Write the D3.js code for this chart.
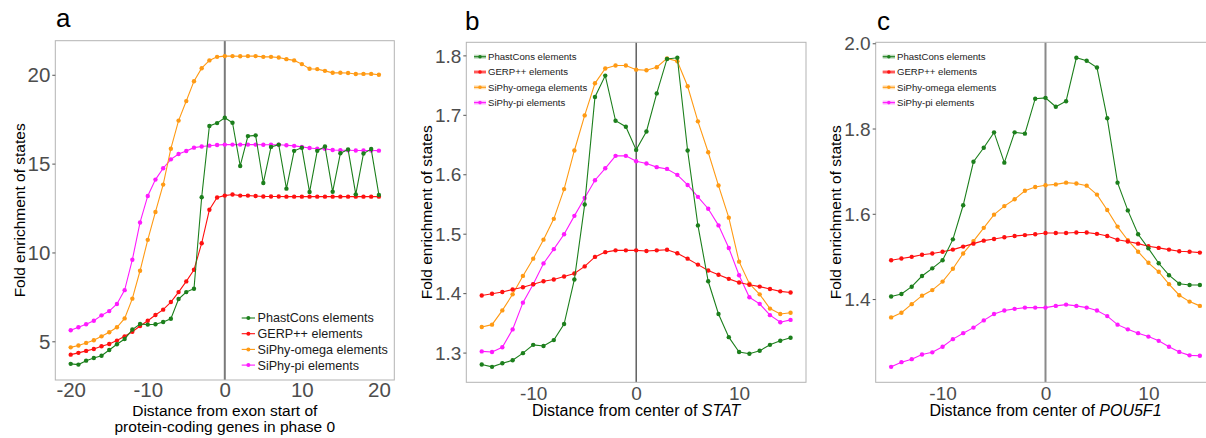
<!DOCTYPE html>
<html>
<head>
<meta charset="utf-8">
<script src="https://cdn.jsdelivr.net/npm/d3@7"></script>
<style>
  html, body { margin: 0; padding: 0; background: #fff; }
  svg { display: block; font-family: "Liberation Sans", Arial, sans-serif; }
</style>
</head>
<body>
<svg id="chart" width="1206" height="438"></svg>
<script>
// ---------- DATA ----------
const seriesNames = ["PhastCons elements", "GERP++ elements", "SiPhy-omega elements", "SiPhy-pi elements"];
const seriesColors = ["#1c7f1c", "#ff1010", "#ff9a14", "#ff1aff"];

// Panel a: distance from exon start (-20..20)
const xA = d3.range(-20, 21);
const phastA = [3.73,3.69,3.91,4.06,4.19,4.51,4.83,5.13,5.66,5.97,5.94,5.96,6.09,6.27,7.38,7.77,7.96,13.11,17.12,17.28,
  17.58,17.30,14.87,16.55,16.59,13.91,15.94,16.07,13.59,15.72,15.89,13.40,15.72,15.96,13.42,15.58,15.80,13.27,15.57,15.82,13.24];
const gerpA = [4.25,4.35,4.46,4.57,4.72,4.85,5.04,5.28,5.54,5.86,6.16,6.48,6.78,7.21,7.77,8.37,9.03,10.52,12.40,13.09,
  13.20,13.26,13.20,13.20,13.18,13.15,13.15,13.15,13.14,13.14,13.14,13.14,13.14,13.14,13.14,13.14,13.14,13.14,13.14,13.14,13.14];
const omegaA = [4.66,4.76,4.91,5.06,5.28,5.51,5.79,6.29,7.40,8.97,10.71,12.28,13.82,15.84,17.42,18.52,19.64,20.37,20.81,21.01,
  21.05,21.05,21.04,21.05,21.05,21.01,21.01,20.97,20.88,20.81,20.60,20.34,20.32,20.22,20.11,20.11,20.10,20.04,20.05,20.05,20.00];
const piA = [5.62,5.79,5.96,6.16,6.46,6.70,7.10,7.88,9.59,11.69,13.18,14.10,14.74,15.24,15.54,15.71,15.90,15.96,16.01,16.05,
  16.07,16.07,16.07,16.07,16.07,16.06,16.06,16.06,16.03,16.00,15.94,15.88,15.84,15.83,15.77,15.75,15.75,15.74,15.74,15.74,15.73];

// Panel b: distance from center of STAT (-15..15)
const xB = d3.range(-15, 16);
const phastB = [1.280,1.276,1.282,1.287,1.299,1.313,1.311,1.321,1.348,1.423,1.549,1.730,1.766,1.690,1.680,1.641,
  1.672,1.736,1.794,1.796,1.640,1.514,1.420,1.365,1.326,1.301,1.298,1.303,1.313,1.320,1.325];
const gerpB = [1.396,1.399,1.402,1.406,1.410,1.415,1.420,1.423,1.428,1.433,1.445,1.461,1.469,1.472,1.472,1.472,
  1.471,1.472,1.473,1.467,1.458,1.448,1.438,1.431,1.424,1.418,1.414,1.411,1.407,1.403,1.401];
const omegaB = [1.343,1.347,1.371,1.398,1.429,1.458,1.490,1.525,1.575,1.640,1.699,1.753,1.778,1.783,1.783,1.776,
  1.775,1.780,1.795,1.790,1.748,1.689,1.637,1.581,1.527,1.453,1.416,1.398,1.374,1.365,1.367];
const piB = [1.302,1.301,1.309,1.339,1.384,1.415,1.450,1.474,1.499,1.530,1.560,1.590,1.610,1.631,1.631,1.622,
  1.618,1.612,1.609,1.599,1.582,1.562,1.542,1.514,1.476,1.430,1.393,1.382,1.363,1.351,1.355];

// Panel c: distance from center of POU5F1 (-15..15)
const xC = d3.range(-15, 16);
const phastC = [1.406,1.412,1.429,1.454,1.472,1.491,1.540,1.620,1.722,1.755,1.791,1.720,1.791,1.788,1.870,1.872,
  1.851,1.864,1.966,1.959,1.943,1.824,1.673,1.608,1.552,1.519,1.484,1.456,1.436,1.433,1.433];
const gerpC = [1.491,1.495,1.499,1.504,1.507,1.511,1.516,1.523,1.530,1.537,1.541,1.545,1.548,1.550,1.552,1.555,
  1.555,1.555,1.556,1.556,1.553,1.548,1.539,1.535,1.530,1.524,1.520,1.516,1.512,1.511,1.509];
const omegaC = [1.357,1.368,1.388,1.408,1.421,1.441,1.471,1.507,1.536,1.567,1.598,1.618,1.634,1.654,1.663,1.667,
  1.669,1.673,1.671,1.666,1.645,1.609,1.570,1.538,1.511,1.485,1.464,1.435,1.409,1.394,1.384];
const piC = [1.241,1.252,1.259,1.270,1.275,1.288,1.306,1.320,1.333,1.350,1.365,1.373,1.377,1.380,1.380,1.380,
  1.384,1.387,1.384,1.380,1.373,1.360,1.340,1.329,1.320,1.312,1.302,1.288,1.276,1.268,1.267];

const xTicksA = [-20, -10, 0, 10, 20];
const yTicksA = [5, 10, 15, 20];
const xTicksBC = [-10, 0, 10];
const yTicksB = [1.3, 1.4, 1.5, 1.6, 1.7, 1.8];
const yTicksC = [1.4, 1.6, 1.8, 2.0];

// ---------- DRAW ----------
const svg = d3.select("#chart");

function drawPanel(cfg) {
  const { left, right, top, bottom } = cfg.box;
  const allY = cfg.series.flat();
  const [ymin, ymax] = d3.extent(allY);
  const [xmin, xmax] = d3.extent(cfg.x);
  const ex = (xmax - xmin) * 0.05, ey = (ymax - ymin) * 0.05;
  const xs = d3.scaleLinear().domain([xmin - ex, xmax + ex]).range([left, right]);
  const ys = d3.scaleLinear().domain([ymin - ey, ymax + ey]).range([bottom, top]);

  const g = svg.append("g");
  const clipId = "clip-" + cfg.id;
  g.append("clipPath").attr("id", clipId).append("rect")
    .attr("x", left).attr("y", top).attr("width", right - left).attr("height", bottom - top);

  g.append("rect").attr("x", left).attr("y", top).attr("width", right - left).attr("height", bottom - top)
    .attr("fill", "#fff");

  const plot = g.append("g").attr("clip-path", `url(#${clipId})`);

  plot.append("line")
    .attr("x1", xs(0)).attr("x2", xs(0)).attr("y1", top).attr("y2", bottom)
    .attr("stroke", cfg.vline.color).attr("stroke-width", cfg.vline.width);

  const line = d3.line().x((d, i) => xs(cfg.x[i])).y(d => ys(d));
  for (let s = cfg.series.length - 1; s >= 0; s--) {
    const vals = cfg.series[s];
    plot.append("path").datum(vals)
      .attr("d", line).attr("fill", "none")
      .attr("stroke", seriesColors[s]).attr("stroke-width", 1.1);
    plot.append("g").selectAll("circle").data(vals).join("circle")
      .attr("cx", (d, i) => xs(cfg.x[i])).attr("cy", d => ys(d))
      .attr("r", 2.2).attr("fill", seriesColors[s]);
  }

  g.append("rect").attr("x", left).attr("y", top).attr("width", right - left).attr("height", bottom - top)
    .attr("fill", "none").attr("stroke", "#b3b3b3").attr("stroke-width", 1);

  // y axis
  const yAxis = d3.axisLeft(ys).tickValues(cfg.yTicks).tickSize(3).tickPadding(2)
    .tickFormat(cfg.yFormat);
  const ya = g.append("g").attr("transform", `translate(${left},0)`).call(yAxis);
  ya.select(".domain").remove();
  ya.selectAll(".tick line").attr("stroke", "#555");
  ya.selectAll(".tick text").attr("fill", "#4d4d4d").attr("font-size", cfg.tickSize + "px")
    .attr("font-family", "Liberation Sans, Arial, sans-serif").attr("dy", "0.35em");

  // x axis
  const xAxis = d3.axisBottom(xs).tickValues(cfg.xTicks).tickSize(0).tickPadding(cfg.xPad)
    .tickFormat(d3.format("d"));
  const xa = g.append("g").attr("transform", `translate(0,${bottom})`).call(xAxis);
  xa.select(".domain").remove();
  xa.selectAll(".tick text").attr("fill", "#4d4d4d").attr("font-size", cfg.tickSize + "px")
    .attr("font-family", "Liberation Sans, Arial, sans-serif").text(d => d < 0 ? "-" + Math.abs(d) : d);

  // axis titles
  g.append("text")
    .attr("transform", `translate(${cfg.yTitleX},${(top + bottom) / 2}) rotate(-90)`)
    .attr("text-anchor", "middle").attr("font-size", "15.5px").attr("fill", "#000")
    .text("Fold enrichment of states");

  cfg.xTitle(g, xs(0));

  // panel letter
  g.append("text").attr("x", cfg.letter.x).attr("y", cfg.letter.y)
    .attr("font-size", "26px").attr("fill", "#000").text(cfg.letter.text);

  // legend
  const lg = g.append("g");
  seriesNames.forEach((name, i) => {
    const y = cfg.legend.y0 + i * cfg.legend.dy;
    const x0 = cfg.legend.x0, x1 = cfg.legend.x1;
    if (cfg.legend.band) {
      lg.append("line").attr("x1", x0).attr("x2", x1).attr("y1", y).attr("y2", y)
        .attr("stroke", seriesColors[i]).attr("stroke-width", 4).attr("stroke-opacity", 0.3);
    }
    lg.append("line").attr("x1", x0).attr("x2", x1).attr("y1", y).attr("y2", y)
      .attr("stroke", seriesColors[i]).attr("stroke-width", 1.1);
    lg.append("circle").attr("cx", (x0 + x1) / 2).attr("cy", y).attr("r", cfg.legend.r)
      .attr("fill", seriesColors[i]);
    lg.append("text").attr("x", cfg.legend.tx).attr("y", y).attr("dy", "0.35em")
      .attr("font-size", cfg.legend.size + "px").attr("fill", "#1a1a1a").text(name);
  });
}

// Panel a
drawPanel({
  id: "a",
  box: { left: 55.3, right: 394.3, top: 40.7, bottom: 380 },
  x: xA, series: [phastA, gerpA, omegaA, piA],
  xTicks: xTicksA, yTicks: yTicksA, yFormat: d3.format("d"),
  tickSize: 20.5, xPad: 2,
  vline: { color: "#7a7a7a", width: 2 },
  yTitleX: 25,
  xTitle: (g, cx) => {
    g.append("text").attr("x", cx).attr("y", 416).attr("text-anchor", "middle")
      .attr("font-size", "15.5px").attr("fill", "#000").text("Distance from exon start of");
    g.append("text").attr("x", cx).attr("y", 431.5).attr("text-anchor", "middle")
      .attr("font-size", "15.5px").attr("fill", "#000").text("protein-coding genes in phase 0");
  },
  letter: { x: 56, y: 27, text: "a" },
  legend: { x0: 241.7, x1: 255, tx: 257.5, y0: 318, dy: 15.7, size: 12.6, r: 2, band: false }
});

// Panel b
drawPanel({
  id: "b",
  box: { left: 466.3, right: 806, top: 42.3, bottom: 382.3 },
  x: xB, series: [phastB, gerpB, omegaB, piB],
  xTicks: xTicksBC, yTicks: yTicksB, yFormat: d3.format(".1f"),
  tickSize: 19, xPad: 4,
  vline: { color: "#111", width: 1 },
  yTitleX: 432,
  xTitle: (g, cx) => {
    const t = g.append("text").attr("x", cx).attr("y", 416).attr("text-anchor", "middle")
      .attr("font-size", "16px").attr("fill", "#000");
    t.append("tspan").text("Distance from center of ");
    t.append("tspan").attr("font-style", "italic").text("STAT");
  },
  letter: { x: 465, y: 30, text: "b" },
  legend: { x0: 474, x1: 486, tx: 488, y0: 56.7, dy: 15.3, size: 9.6, r: 1.8, band: true }
});

// Panel c
drawPanel({
  id: "c",
  box: { left: 875.7, right: 1215.3, top: 42.3, bottom: 382.3 },
  x: xC, series: [phastC, gerpC, omegaC, piC],
  xTicks: xTicksBC, yTicks: yTicksC, yFormat: d3.format(".1f"),
  tickSize: 19, xPad: 4,
  vline: { color: "#8a8a8a", width: 2 },
  yTitleX: 841,
  xTitle: (g, cx) => {
    const t = g.append("text").attr("x", cx).attr("y", 416).attr("text-anchor", "middle")
      .attr("font-size", "16px").attr("fill", "#000");
    t.append("tspan").text("Distance from center of ");
    t.append("tspan").attr("font-style", "italic").text("POU5F1");
  },
  letter: { x: 877, y: 30, text: "c" },
  legend: { x0: 882.7, x1: 895, tx: 897, y0: 56.7, dy: 15.3, size: 9.6, r: 1.8, band: true }
});
</script>
</body>
</html>
